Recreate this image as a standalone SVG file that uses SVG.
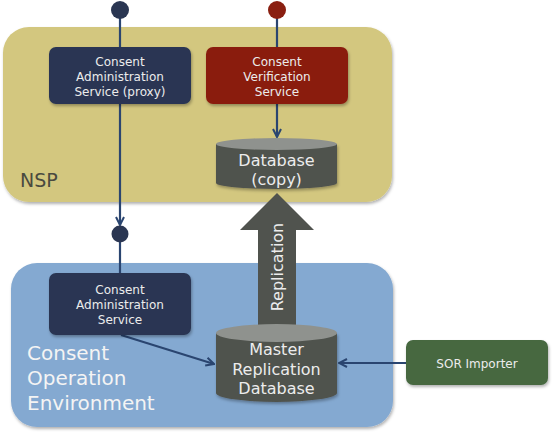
<svg xmlns="http://www.w3.org/2000/svg" width="553" height="434" viewBox="0 0 553 434">
<defs>
<style>
.lbl{font-family:"DejaVu Sans",sans-serif;fill:#ECECEC;text-anchor:middle}
.sm{font-size:12px}
.db{font-size:16px}
.conn{stroke:#2A4570;stroke-width:2.2;fill:none}
.dbbody{fill:#50534E}
.dbtop{fill:#8F928E}
</style>
<filter id="sh" x="-10%" y="-10%" width="125%" height="130%">
<feDropShadow dx="1" dy="2" stdDeviation="1.5" flood-color="#000" flood-opacity="0.3"/>
</filter>
<marker id="arr" viewBox="0 0 10 10" refX="9" refY="5" markerWidth="10" markerHeight="10" markerUnits="userSpaceOnUse" orient="auto">
<path d="M1,1 L9,5 L1,9" fill="none" stroke="#2A4570" stroke-width="2"/>
</marker>
</defs>

<g id="nsp">
<rect x="3" y="27" width="389" height="175" rx="26" fill="#D3C77F" filter="url(#sh)"/>
<text x="20" y="187" font-family="DejaVu Sans,sans-serif" font-size="19" fill="#4A4A40">NSP</text>
</g>

<g id="coe">
<rect x="11" y="263" width="382" height="164" rx="26" fill="#84A9D1" filter="url(#sh)"/>
<text font-family="DejaVu Sans,sans-serif" font-size="20" fill="#F4F4F4"><tspan x="27" y="360">Consent</tspan><tspan x="27" y="385">Operation</tspan><tspan x="27" y="410">Environment</tspan></text>
</g>

<g id="connectors">
<line class="conn" x1="120" y1="10" x2="120" y2="225" marker-end="url(#arr)"/>
<line class="conn" x1="120" y1="234" x2="120" y2="273"/>
<line class="conn" x1="277" y1="10" x2="277" y2="47"/>
<line class="conn" x1="277" y1="104" x2="277" y2="137" marker-end="url(#arr)"/>
<line class="conn" x1="121" y1="335" x2="214" y2="364" marker-end="url(#arr)"/>
<line class="conn" x1="406" y1="363" x2="339" y2="363" marker-end="url(#arr)"/>
</g>

<g id="port-admin">
<circle cx="120" cy="10" r="9" fill="#2A3652"/>
</g>
<g id="port-verify">
<circle cx="277" cy="10" r="9" fill="#8A1F11"/>
</g>
<g id="port-mid">
<circle cx="120" cy="234" r="8.5" fill="#2A3652"/>
</g>

<g id="cas-proxy">
<rect x="49" y="47" width="142" height="57" rx="7" fill="#2A3652" filter="url(#sh)"/>
<text class="lbl sm"><tspan x="120" y="66">Consent</tspan><tspan x="120" y="81">Administration</tspan><tspan x="120" y="96">Service (proxy)</tspan></text>
</g>

<g id="cvs">
<rect x="206" y="47" width="142" height="57" rx="7" fill="#8A1F11" filter="url(#sh)"/>
<text class="lbl sm"><tspan x="277" y="66">Consent</tspan><tspan x="277" y="81">Verification</tspan><tspan x="277" y="96">Service</tspan></text>
</g>

<g id="replication">
<polygon points="258,325 258,230 240,230 277,193 314,230 296,230 296,325" fill="#50534E"/>
<text x="283" y="267" class="lbl db" transform="rotate(-90 283 267)">Replication</text>
</g>

<g id="db-copy">
<path class="dbbody" d="M216,144 V183 A60.5,6 0 0 0 337,183 V144 Z" filter="url(#sh)"/>
<ellipse class="dbtop" cx="276.5" cy="144" rx="60.5" ry="6"/>
<text class="lbl db"><tspan x="276.5" y="166">Database</tspan><tspan x="276.5" y="185">(copy)</tspan></text>
</g>

<g id="cas">
<rect x="49" y="273" width="142" height="62" rx="7" fill="#2A3652" filter="url(#sh)"/>
<text class="lbl sm"><tspan x="120" y="294">Consent</tspan><tspan x="120" y="309">Administration</tspan><tspan x="120" y="324">Service</tspan></text>
</g>

<g id="master-db">
<path class="dbbody" d="M216,333 V393 A60.5,9 0 0 0 337,393 V333 Z" filter="url(#sh)"/>
<ellipse class="dbtop" cx="276.5" cy="333" rx="60.5" ry="9"/>
<text class="lbl db"><tspan x="276.5" y="355">Master</tspan><tspan x="276.5" y="375">Replication</tspan><tspan x="276.5" y="394">Database</tspan></text>
</g>

<g id="sor">
<rect x="406" y="340" width="142" height="45" rx="7" fill="#466741" filter="url(#sh)"/>
<text x="477" y="368" class="lbl sm">SOR Importer</text>
</g>
</svg>
